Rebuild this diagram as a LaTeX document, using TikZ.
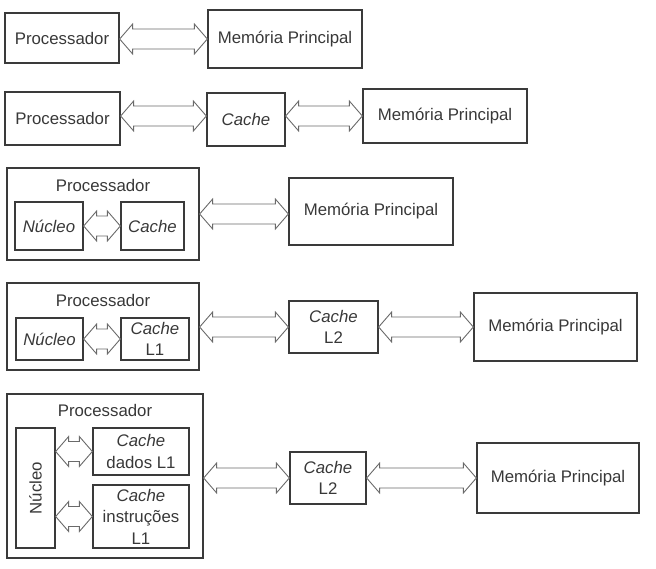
\documentclass[tikz,border=0pt]{standalone}
\usepackage{fontspec}
\usepackage{graphicx}
\setmainfont{Liberation Sans}
\usetikzlibrary{calc}

\definecolor{boxgray}{HTML}{3A3A3A}
\definecolor{busgray}{HTML}{6A6A6A}
\definecolor{txtgray}{HTML}{383838}

% hollow two-way bus between two nodes, at the height of a third one
\newcommand{\bus}[3]{%
  \draw[busline] let \p1=(#1.east), \p2=(#2.west), \p3=(#3.center) in
    (\x1,\y3) -- (\x1+13pt,\y3+15pt) -- (\x1+13pt,\y3+10pt) -- (\x2-13pt,\y3+10pt)
    -- (\x2-13pt,\y3+15pt) -- (\x2,\y3) -- (\x2-13pt,\y3-15pt) -- (\x2-13pt,\y3-10pt)
    -- (\x1+13pt,\y3-10pt) -- (\x1+13pt,\y3-15pt) -- cycle;}

\begin{document}
\begin{tikzpicture}
  [x=1pt, y=-1pt,
    font=\fontsize{16.8}{21.5}\selectfont, text=txtgray,
    box/.style={draw=boxgray, line width=1.3pt, inner sep=2pt, align=center},
    boxsize/.style 2 args={minimum width=#1pt, minimum height=#2pt},
    busline/.style={draw=busgray, line width=0.9pt, fill=white},
  ]
  \useasboundingbox (0,0) rectangle (656,568);

  % Row 1
  \node[box, boxsize={114}{50}] (p1) at (62,38) {Processador};
  \node[box, boxsize={154}{58}] (m1) at (285,39) {Memória Principal};
  \bus{p1}{m1}{m1}

  % Row 2
  \node[box, boxsize={115}{53}] (p2) at (62.5,118.5) {Processador};
  \node[box, boxsize={78}{53}] (c2) at (246,119.5) {\textit{Cache}};
  \node[box, boxsize={164}{54}] (m2) at (445,116) {Memória Principal};
  \bus{p2}{c2}{m2}
  \bus{c2}{m2}{m2}

  % Row 3
  \node[box, boxsize={192}{92}] (p3) at (103,214) {};
  \node (t3) at (103,185) {Processador};
  \node[box, boxsize={68}{48}] (n3) at (49,226) {\textit{Núcleo}};
  \node[box, boxsize={63}{48}] (c3) at (152.5,226) {\textit{Cache}};
  \node[box, boxsize={164}{67}] (m3) at (371,211.5) {Memória Principal};
  \bus{n3}{c3}{n3}
  \bus{p3}{m3}{p3}

  % Row 4
  \node[box, boxsize={192}{87}] (p4) at (103,326.5) {};
  \node (t4) at (103,300) {Processador};
  \node[box, boxsize={67}{42}] (n4) at (49.5,339) {\textit{Núcleo}};
  \node[box, boxsize={68}{42}] (c4) at (155,339) {\textit{Cache}\\L1};
  \node[box, boxsize={89}{52}] (l4) at (333.5,327) {\textit{Cache}\\L2};
  \node[box, boxsize={163}{68}] (m4) at (555.5,327) {Memória Principal};
  \bus{n4}{c4}{n4}
  \bus{p4}{l4}{l4}
  \bus{l4}{m4}{l4}

  % Row 5
  \node[box, boxsize={196}{164}] (p5) at (105,476) {};
  \node (t5) at (105,410) {Processador};
  \node[box, boxsize={39}{120}] (n5) at (35.5,488) {\rotatebox{90}{Núcleo}};
  \node[box, boxsize={96}{47}] (d5) at (141,451.5) {\textit{Cache}\\dados L1};
  \node[box, boxsize={96}{63}] (i5) at (141,516.5) {\textit{Cache}\\instruções\\L1};
  \node[box, boxsize={76}{52}] (l5) at (328,478) {\textit{Cache}\\L2};
  \node[box, boxsize={162}{70}] (m5) at (558,478) {Memória Principal};
  \bus{n5}{d5}{d5}
  \bus{n5}{i5}{i5}
  \bus{p5}{l5}{l5}
  \bus{l5}{m5}{l5}
\end{tikzpicture}
\end{document}
